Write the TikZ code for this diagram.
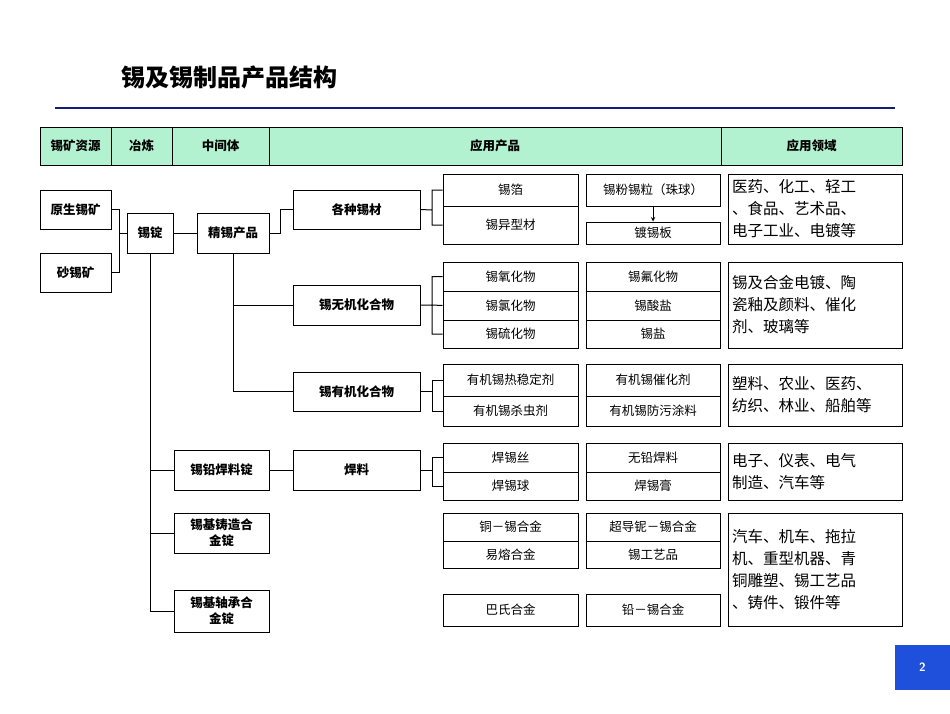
\documentclass[tikz,border=0pt]{standalone}
\usepackage{fontspec}
\setmainfont{Noto Sans CJK SC}
\usetikzlibrary{positioning}
\definecolor{hdrgreen}{RGB}{178,242,208}
\definecolor{titleblue}{RGB}{20,30,120}
\definecolor{pageblue}{RGB}{30,80,220}
\tikzset{
  box/.style={draw,line width=1pt,inner sep=0pt,font=\fontsize{12.5}{14}\selectfont},
  bbox/.style={box,font=\fontsize{12.5}{16}\bfseries\selectfont,align=center},
  hdr/.style={draw,line width=1pt,fill=hdrgreen,inner sep=0pt,font=\fontsize{12.5}{14}\bfseries\selectfont},
  usebox/.style={draw,line width=1pt,inner sep=4pt,align=left,text width=166pt,
    font=\fontsize{15.5}{22}\selectfont},
  link/.style={line width=1pt}
}
\begin{document}
\begin{tikzpicture}[x=1pt,y=-1pt]
  \useasboundingbox (0,0) rectangle (950,713);
  % title
  \node[anchor=west,font=\fontsize{24}{28}\bfseries\selectfont] (title) at (118,77) {锡及锡制品产品结构};
  \draw[titleblue,line width=2.5pt] (55,108) -- (895,108);
  % header
  \node[hdr,minimum width=71pt,minimum height=38pt] (h1) at (75.5,146) {锡矿资源};
  \node[hdr,minimum width=61pt,minimum height=38pt] (h2) at (141.5,146) {冶炼};
  \node[hdr,minimum width=97pt,minimum height=38pt] (h3) at (220.5,146) {中间体};
  \node[hdr,minimum width=452pt,minimum height=38pt] (h4) at (495,146) {应用产品};
  \node[hdr,minimum width=181pt,minimum height=38pt] (h5) at (811.5,146) {应用领域};
  % sources and intermediates
  \node[bbox,minimum width=71pt,minimum height=39pt] (primary) at (75.5,209.5) {原生锡矿};
  \node[bbox,minimum width=71pt,minimum height=39pt] (placer) at (75.5,272.5) {砂锡矿};
  \node[bbox,minimum width=46pt,minimum height=40pt] (ingot) at (150,233) {锡锭};
  \node[bbox,minimum width=72pt,minimum height=40pt] (refined) at (233,233) {精锡产品};
  \node[bbox,minimum width=127pt,minimum height=39pt] (stock) at (356.5,209.5) {各种锡材};
  \node[bbox,minimum width=127pt,minimum height=40pt] (inorg) at (356.5,305) {锡无机化合物};
  \node[bbox,minimum width=127pt,minimum height=39pt] (organ) at (356.5,391.5) {锡有机化合物};
  \node[bbox,minimum width=95pt,minimum height=40pt] (pbingot) at (221.5,470) {锡铅焊料锭};
  \node[bbox,minimum width=127pt,minimum height=40pt] (solder) at (356.5,470) {焊料};
  \node[bbox,minimum width=95pt,minimum height=40pt] (cast) at (221.5,533) {锡基铸造合\\金锭};
  \node[bbox,minimum width=95pt,minimum height=42pt] (bearing) at (221.5,611) {锡基轴承合\\金锭};
  % connectors
  \draw[link] (primary.east) -| (119,233) -- (ingot.west);
  \draw[link] (placer.east) -| (119,233);
  \draw[link] (ingot) -- (refined);
  \draw[link] (refined.east) -- (280,233) |- (stock.west);
  \draw[link] (refined.south) |- (inorg.west);
  \draw[link] (refined.south) |- (organ.west);
  \draw[link] (ingot.south) |- (pbingot.west);
  \draw[link] (ingot.south) |- (cast.west);
  \draw[link] (ingot.south) |- (bearing.west);
  \draw[link] (pbingot) -- (solder);
  % product columns
  \node[box,minimum width=135pt,minimum height=32pt] (foil) at (510.5,190) {锡箔};
  \node[box,minimum width=135pt,minimum height=38pt] (profile) at (510.5,225) {锡异型材};
  \node[box,minimum width=134pt,minimum height=32pt] (powder) at (653,190) {锡粉锡粒（珠球）};
  \node[box,minimum width=134pt,minimum height=22pt] (tinplate) at (653,233) {镀锡板};
  \draw[link,-stealth] (powder) -- (tinplate);
  \node[box,minimum width=135pt,minimum height=29pt] (oxide) at (510.5,276.5) {锡氧化物};
  \node[box,minimum width=135pt,minimum height=29pt] (chloride) at (510.5,305.5) {锡氯化物};
  \node[box,minimum width=135pt,minimum height=28pt] (sulfide) at (510.5,334) {锡硫化物};
  \node[box,minimum width=134pt,minimum height=29pt] (fluoride) at (653,276.5) {锡氟化物};
  \node[box,minimum width=134pt,minimum height=29pt] (stannate) at (653,305.5) {锡酸盐};
  \node[box,minimum width=134pt,minimum height=28pt] (salt) at (653,334) {锡盐};
  \node[box,minimum width=135pt,minimum height=32pt] (stab) at (510.5,380) {有机锡热稳定剂};
  \node[box,minimum width=135pt,minimum height=30pt] (pest) at (510.5,411) {有机锡杀虫剂};
  \node[box,minimum width=134pt,minimum height=32pt] (cata) at (653,380) {有机锡催化剂};
  \node[box,minimum width=134pt,minimum height=30pt] (antif) at (653,411) {有机锡防污涂料};
  \node[box,minimum width=135pt,minimum height=29pt] (wire) at (510.5,457.5) {焊锡丝};
  \node[box,minimum width=135pt,minimum height=28pt] (ball) at (510.5,486) {焊锡球};
  \node[box,minimum width=134pt,minimum height=29pt] (leadfree) at (653,457.5) {无铅焊料};
  \node[box,minimum width=134pt,minimum height=28pt] (paste) at (653,486) {焊锡膏};
  \node[box,minimum width=135pt,minimum height=28pt] (bronze) at (510.5,527) {铜－锡合金};
  \node[box,minimum width=135pt,minimum height=27pt] (fusible) at (510.5,554.5) {易熔合金};
  \node[box,minimum width=134pt,minimum height=28pt] (nb) at (653,527) {超导铌－锡合金};
  \node[box,minimum width=134pt,minimum height=27pt] (craft) at (653,554.5) {锡工艺品};
  \node[box,minimum width=135pt,minimum height=32pt] (babbitt) at (510.5,610) {巴氏合金};
  \node[box,minimum width=134pt,minimum height=32pt] (pbsn) at (653,610) {铅－锡合金};
  % brackets
  \draw[link] (stock.east) -- (432,210) (foil.west) -| (432,225) -- (profile.west);
  \draw[link] (inorg.east) -- (432,305) (oxide.west) -| (432,334) -- (sulfide.west) (432,305) -- (chloride.west);
  \draw[link] (organ.east) -- (432,391.5) (stab.west) -| (432,411) -- (pest.west);
  \draw[link] (solder.east) -- (432,470) (wire.west) -| (432,486) -- (ball.west);
  % fields
  \node[usebox,minimum height=70pt] (use1) at (815,209) {医药、化工、轻工\\、食品、艺术品、\\电子工业、电镀等};
  \node[usebox,minimum height=86pt] (use2) at (815,305) {锡及合金电镀、陶\\瓷釉及颜料、催化\\剂、玻璃等};
  \node[usebox,minimum height=62pt] (use3) at (815,395) {塑料、农业、医药、\\纺织、林业、船舶等};
  \node[usebox,minimum height=57pt] (use4) at (815,471.5) {电子、仪表、电气\\制造、汽车等};
  \node[usebox,minimum height=113pt] (use5) at (815,569.5) {汽车、机车、拖拉\\机、重型机器、青\\铜雕塑、锡工艺品\\、铸件、锻件等};
  % page number
  \node[fill=pageblue,text=white,minimum width=55pt,minimum height=45pt,font=\fontsize{12}{14}\bfseries\sffamily] (page) at (922.5,667.5) {2};
\end{tikzpicture}
\end{document}
